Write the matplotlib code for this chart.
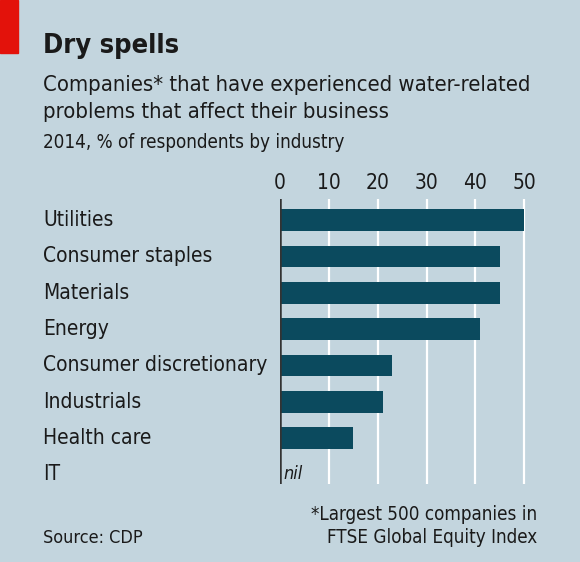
import matplotlib.pyplot as plt
from matplotlib.patches import Rectangle

industries = ["Utilities", "Consumer staples", "Materials", "Energy",
              "Consumer discretionary", "Industrials", "Health care", "IT"]
share = [50, 45, 45, 41, 23, 21, 15, 0]
ticks = [0, 10, 20, 30, 40, 50]

bg = "#c3d5de"
bar_col = "#0b4a5e"
txt = "#1a1a1a"
plt.rcParams['font.family'] = ['DejaVu Sans']
plt.rcParams['font.stretch'] = 'condensed'

W, H = 580, 562
fig = plt.figure(figsize=(W / 100, H / 100), dpi=100, facecolor=bg)

def fx(px):
    return px / W

def fy(py):
    return 1 - py / H

# axes: x from 280px (0) with 4.886 px/unit, y from 199px to 484px
ax = fig.add_axes([fx(280), fy(484), fx(531) - fx(280), fy(199) - fy(484)])
ax.set_facecolor(bg)
ax.set_xlim(0, (531 - 280) / 4.886)
ax.set_ylim(7.267, -0.584)

for t in ticks[1:]:
    ax.axvline(t, color="white", lw=1.6, zorder=1)
ax.barh(range(len(industries)), share, height=0.6, color=bar_col, zorder=2)
ax.axvline(0, color="#333333", lw=1.8, zorder=3)

ax.xaxis.tick_top()
ax.set_xticks(ticks)
ax.set_xticklabels([str(t) for t in ticks], fontsize=15, color=txt)
ax.tick_params(axis='x', length=0, pad=4)
ax.set_yticks([])
for s in ax.spines.values():
    s.set_visible(False)

for i, name in enumerate(industries):
    fig.text(fx(43), fy(220.2 + i * 36.3), name, fontsize=15, color=txt,
             ha='left', va='center')

ax.text(0.6, 7, "nil", fontsize=13, style='italic', color=txt,
        ha='left', va='center')

fig.patches.append(Rectangle((0, fy(53)), fx(18), 1 - fy(53), transform=fig.transFigure,
                             color="#e3120b", zorder=5))

fig.text(fx(43), fy(53), "Dry spells", fontsize=19.5, fontweight='bold', color=txt,
         va='baseline', ha='left')
fig.text(fx(43), fy(90.7), "Companies* that have experienced water-related",
         fontsize=15.8, color=txt, va='baseline', ha='left')
fig.text(fx(43), fy(118.5), "problems that affect their business",
         fontsize=15.8, color=txt, va='baseline', ha='left')
fig.text(fx(43), fy(148), "2014, % of respondents by industry",
         fontsize=13.5, color=txt, va='baseline', ha='left')

fig.text(fx(537), fy(520), "*Largest 500 companies in", fontsize=13.5, color=txt,
         va='baseline', ha='right')
fig.text(fx(537), fy(543), "FTSE Global Equity Index", fontsize=13.5, color=txt,
         va='baseline', ha='right')
fig.text(fx(43), fy(543), "Source: CDP", fontsize=13, color=txt,
         va='baseline', ha='left')

fig.savefig("out.png", dpi=100, facecolor=bg)
